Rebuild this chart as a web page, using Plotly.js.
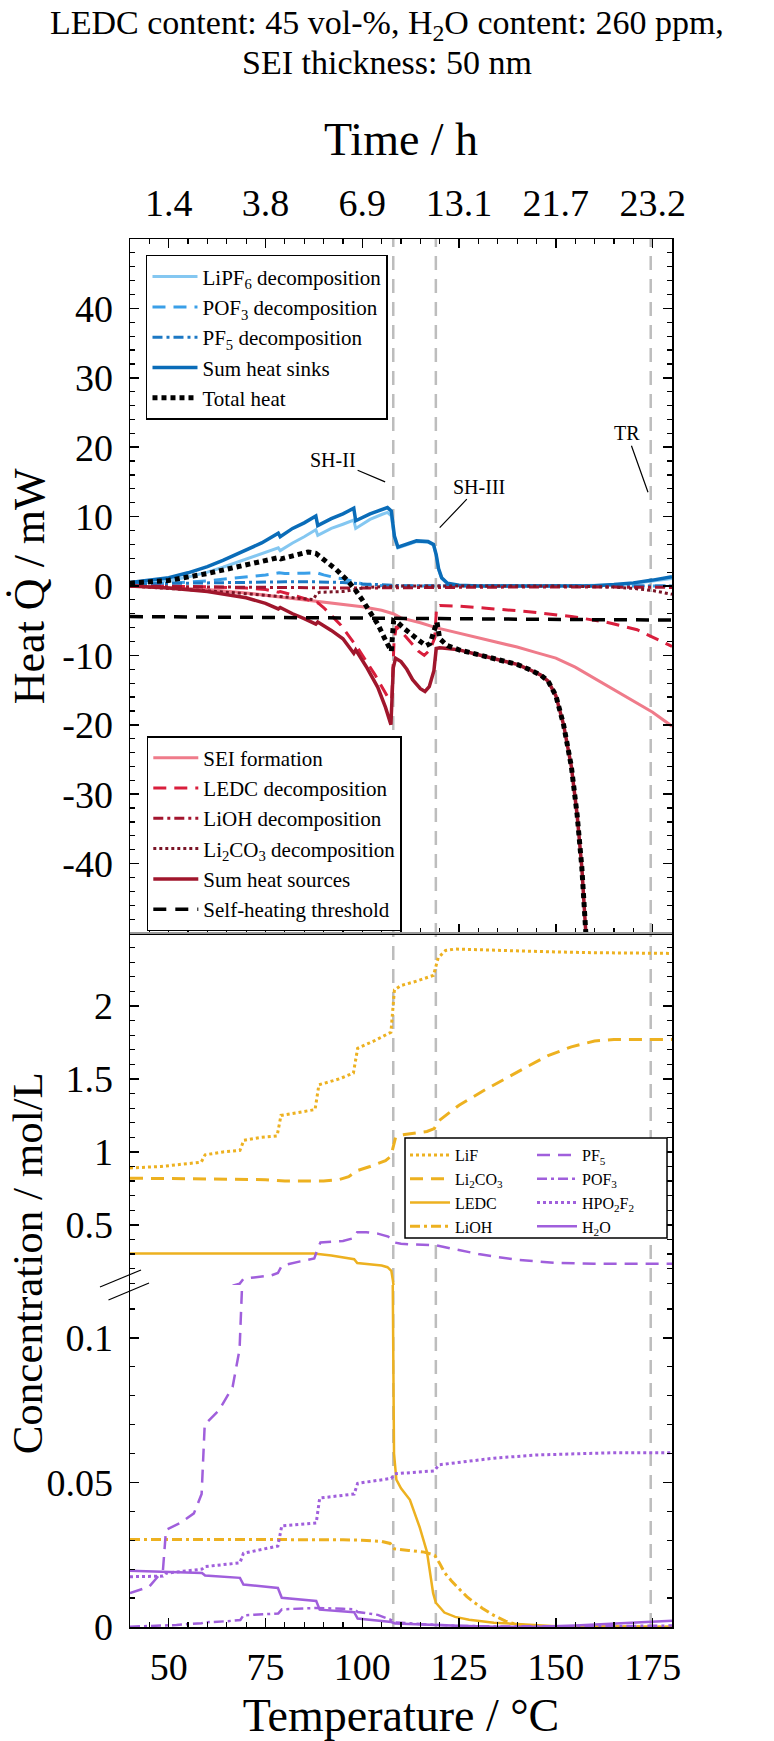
<!DOCTYPE html>
<html><head><meta charset="utf-8">
<script src="https://cdn.plot.ly/plotly-3.0.1.min.js"></script>
<style>html,body{margin:0;padding:0;background:#fff}</style>
</head><body><div id="chart" style="width:774px;height:1741px"></div>
<script>
// ---------- axis tick data ----------
const tempTicks = [50, 75, 100, 125, 150, 175];
const timeLabels = ['1.4', '3.8', '6.9', '13.1', '21.7', '23.2'];
const heatTicks = [-40, -30, -20, -10, 0, 10, 20, 30, 40];
const heatTickText = ['-40', '-30', '-20', '-10', '0', '10', '20', '30', '40'];
const concHiTicks = [0.5, 1, 1.5, 2];
const concHiText = ['0.5', '1', '1.5', '2'];
const concLoTicks = [0, 0.05, 0.1];
const concLoText = ['0', '0.05', '0.1'];
const eventTemps = [108, 119, 174.5];

// ---------- heat sinks ----------
const T_sink = [40,45,50,55,60,64,70,74,78.3,78.8,82,85,88.0,88.5,92,95,97.8,98.3,102,105,106.5,107.5,108.3,109.2,111,114,117,118.4,119.1,119.7,120.5,122,125,130,140,150,160,165,170,175,180];
const sumSinks = [0.5,0.8,1.2,1.9,2.8,3.7,5.2,6.2,7.6,7.1,8.3,9.1,10.1,8.7,9.7,10.4,11.2,9.4,10.4,11.0,11.3,10.8,7.2,5.6,5.9,6.5,6.4,6.0,4.5,2.5,1.2,0.4,0.1,0.0,0.0,0.0,0.05,0.2,0.45,0.85,1.35];
const lipf6Heat = [0.3,0.5,0.8,1.3,2.0,2.7,3.9,4.6,5.5,5.1,6.2,7.1,8.1,7.3,8.3,8.9,9.5,8.3,9.6,10.3,10.6,10.1,6.9,5.5,5.8,6.4,6.3,5.9,4.4,2.4,1.1,0.3,0.05,0.0,0.0,0.0,0.05,0.15,0.35,0.7,1.1];
const T_pof3h = [40,50,60,70,75,78.5,80,85,88.3,90,93,95.5,98,100,103,108,180];
const pof3Heat = [0.2,0.4,0.75,1.3,1.6,1.9,1.8,1.85,1.9,1.6,1.2,1.0,0.6,0.3,0.1,0,0];
const T_pf5h = [40,50,60,70,80,88,95,100,105,110,180];
const pf5Heat = [0.3,0.4,0.5,0.6,0.6,0.6,0.5,0.3,0.15,0.05,0];

// ---------- total heat ----------
const T_total = [40,50,60,65,70,75,78.4,79,83,86,88,90,93,96,98,100,102,104,106,107.5,108.1,109,111,113,115,116.5,117.5,118.5,119.3,120,122,125,130,135,140,143,146,148,150,152,154,155.5,156.7,157.8];
const totalHeat = [0.4,0.8,1.8,2.4,3.0,3.7,4.1,3.9,4.4,4.9,4.7,3.8,2.5,0.9,-0.4,-2.0,-3.6,-5.5,-7.8,-9.4,-5.0,-5.2,-6.2,-7.2,-8.0,-8.6,-8.3,-6.5,-5.2,-7.6,-8.6,-9.2,-9.9,-10.6,-11.3,-12.0,-12.8,-13.7,-15.8,-20.0,-26.0,-33.0,-40.5,-50.5];

// ---------- heat sources ----------
const T_src = [40,50,60,65,70,75,78.3,78.8,82,85,88.0,88.5,92,95,97.8,98.3,101,104,106,107.4,108.0,108.6,110,111.5,113,115,116.2,117.3,118.5,119.1,120,122,125,130,135,140,143,146,148,150,152,154,155.5,156.7,157.8];
const sumSources = [0,-0.3,-0.8,-1.2,-1.7,-2.5,-3.3,-3.1,-4.0,-4.7,-5.5,-5.2,-6.4,-7.6,-9.7,-9.2,-11.6,-14.6,-17.5,-20.0,-11.8,-10.4,-10.9,-12.0,-13.5,-14.8,-15.2,-14.5,-12.2,-9.0,-8.9,-9.0,-9.2,-9.9,-10.6,-11.3,-12.0,-12.8,-13.7,-15.8,-20.0,-26.0,-33.0,-40.5,-50.5];
const T_sei = [40,50,60,70,80,90,100,105,108,110,115,119,125,130,135,140,145,150,155,160,165,170,175,180];
const seiHeat = [0,-0.2,-0.5,-1.0,-1.7,-2.3,-3.0,-3.5,-4.0,-4.6,-5.3,-6.0,-6.8,-7.4,-8.1,-8.8,-9.6,-10.4,-11.7,-13.3,-14.9,-16.5,-18.2,-20.2];
const T_ledch = [40,60,70,75,78.3,78.8,82,85.6,88,88.5,90,94.4,98.9,103.3,106.7,107.6,108.2,108.8,110,112,114.5,116,117.5,118.7,119.2,120,125,132,143,154,163,171,180];
const ledcHeat = [0,-0.1,-0.3,-0.5,-0.9,-0.8,-1.3,-1.9,-2.5,-2.4,-3.1,-5.6,-9.0,-12.8,-16.1,-16.4,-8.0,-5.8,-6.5,-7.8,-9.4,-10.0,-9.2,-7.5,-3.0,-2.8,-2.9,-3.2,-3.7,-4.4,-5.2,-6.3,-8.7];
const T_liohh = [40,60,80,100,108,120,140,160,180];
const liohHeat = [-0.05,-0.15,-0.25,-0.3,-0.25,-0.2,-0.15,-0.15,-0.2];
const T_li2co3h = [40,50,60,70,78,85,87.4,88.2,89,95,97,99,101,105,110,150,160,165,170,175,180];
const li2co3Heat = [0,-0.3,-0.7,-1.1,-1.5,-1.8,-1.95,-1.1,-0.9,-0.8,-0.6,-0.35,-0.2,-0.1,0,0,-0.05,-0.15,-0.35,-0.65,-1.2];
const T_thr = [40,80,120,160,180];
const threshold = [-4.4,-4.5,-4.7,-4.85,-4.9];

// ---------- concentrations ----------
const T_LiF = [40,48,55,58.4,59.4,64,68.4,69.4,74,78.0,79.0,84,87.8,88.8,94,97.7,98.8,103,107.4,108.3,110,114,118.4,119.6,121.5,124,130,140,150,160,170,180];
const cLiF = [0.89,0.90,0.92,0.93,0.98,1.00,1.01,1.08,1.10,1.11,1.25,1.27,1.29,1.46,1.50,1.54,1.71,1.76,1.82,2.11,2.14,2.17,2.21,2.33,2.38,2.39,2.385,2.375,2.37,2.365,2.36,2.36];
const T_Li2CO3 = [40,60,75,80,85,90,94,96.5,98.5,102,106,107.4,108.6,110,116.7,118.6,119.6,125,132,138,143,148,154,160,165,180];
const cLi2CO3 = [0.82,0.815,0.81,0.80,0.80,0.80,0.81,0.83,0.87,0.90,0.94,0.97,1.10,1.115,1.14,1.16,1.21,1.32,1.43,1.52,1.59,1.66,1.72,1.76,1.77,1.77];
const T_LEDC = [40,60,80,87.5,92,96,97.9,98.7,102,105,106.5,107.5,107.9,108.2,108.8,110,112.3,114.8,116.7,118.3,119,121.2,124,127.6,134,140,150,180];
const cLEDC = [0.303,0.305,0.305,0.303,0.29,0.275,0.265,0.238,0.232,0.222,0.21,0.185,0.12,0.06,0.051,0.048,0.044,0.0346,0.026,0.0117,0.0084,0.005,0.0035,0.0025,0.0015,0.001,0.0003,0];
const T_LiOH = [40,60,80,95,100,105,107.2,108.3,112,116,118.7,120,121.2,123,125,127,128.8,131,134,137,140,145,180];
const cLiOH = [0.0303,0.0303,0.0303,0.0302,0.030,0.0296,0.0289,0.027,0.0265,0.0259,0.0248,0.022,0.0189,0.016,0.0132,0.0105,0.0086,0.0065,0.004,0.002,0.0008,0.0002,0];
const T_PF5 = [40,45,48.5,49.3,53,56.5,58.5,59.3,63,66.5,68.3,68.9,69.3,72,76.5,78.2,79.2,84,87.6,88.4,89.2,95,97.9,98.7,101,104,106.7,108.2,110,119,125,130,140,150,160,180];
const cPF5 = [0.0117,0.014,0.0195,0.0336,0.036,0.0393,0.046,0.070,0.075,0.083,0.096,0.113,0.13,0.14,0.154,0.17,0.22,0.25,0.27,0.33,0.38,0.39,0.41,0.45,0.45,0.44,0.42,0.38,0.37,0.36,0.33,0.30,0.26,0.24,0.234,0.234];
const T_POF3 = [40,52,58.5,59.3,65,68.5,69.3,75,78.3,79.2,88,95,98,98.8,104,107.5,108.5,115,119,125,134,150,165,180];
const cPOF3 = [0.0001,0.0007,0.0013,0.0016,0.002,0.0024,0.004,0.0045,0.0047,0.0061,0.0066,0.0063,0.0061,0.0052,0.0042,0.0024,0.0016,0.001,0.0007,0.0004,0.0002,0.0002,0.0003,0.0005];
const T_HPO2F2 = [40,45,48.5,49.3,55,58.6,59.4,68.4,69.3,78.2,79.2,88.1,89.0,97.9,98.8,107.5,108.4,118.6,119.8,125,134,145,155,165,180];
const cHPO2F2 = [0.0174,0.0174,0.0176,0.0186,0.0195,0.0200,0.0209,0.0222,0.0255,0.028,0.035,0.036,0.0446,0.046,0.0497,0.0514,0.053,0.054,0.0561,0.057,0.0584,0.0595,0.060,0.0603,0.0603];
const T_H2O = [40,55,58.6,59.4,68.4,69.3,78.2,79.2,88.1,89.0,97.9,98.8,107.5,108.5,115,125,134,145,155,165,180];
const cH2O = [0.0195,0.0189,0.0187,0.0178,0.0170,0.0147,0.0135,0.0101,0.0090,0.0060,0.0051,0.0029,0.0017,0.0012,0.0008,0.0004,0.0001,0.0001,0.0005,0.0012,0.0022];

// ---------- styling ----------
const FONT = 'Liberation Serif, Times New Roman, serif';
const ORANGE = '#EDB120', PURPLE = '#A05FDC';
const DASH = '13px,8px', DASHDOT = '10px,4px,3px,4px', DOT = '3px,3px';

function heat(name, x, y, color, width, dash, legend) {
  return {type: 'scatter', mode: 'lines', name: name, x: x, y: y, xaxis: 'x2', yaxis: 'y',
    line: {color: color, width: width, dash: dash}, legend: legend, hoverinfo: 'skip'};
}
const traces = [
  heat('LiPF<sub>6</sub> decomposition', T_sink, lipf6Heat, '#84C7F1', 3, 'solid', 'legend'),
  heat('POF<sub>3</sub> decomposition', T_pof3h, pof3Heat, '#3A9FE8', 3, DASH, 'legend'),
  heat('PF<sub>5</sub> decomposition', T_pf5h, pf5Heat, '#1C78C4', 3, DASHDOT, 'legend'),
  heat('Sum heat sinks', T_sink, sumSinks, '#0A6CB8', 3.5, 'solid', 'legend'),
  heat('SEI formation', T_sei, seiHeat, '#EF7B8A', 3, 'solid', 'legend2'),
  heat('LEDC decomposition', T_ledch, ledcHeat, '#D91E3C', 3, DASH, 'legend2'),
  heat('LiOH decomposition', T_liohh, liohHeat, '#A3152F', 3, DASHDOT, 'legend2'),
  heat('Li<sub>2</sub>CO<sub>3</sub> decomposition', T_li2co3h, li2co3Heat, '#7A1426', 3, DOT, 'legend2'),
  heat('Sum heat sources', T_src, sumSources, '#A0162C', 3.5, 'solid', 'legend2'),
  heat('Self-heating threshold', T_thr, threshold, '#000000', 3.5, '13px,9px', 'legend2'),
  heat('Total heat', T_total, totalHeat, '#000000', 5, '5px,4px', 'legend')
];

function conc(name, x, y, color, width, dash, legend) {
  const base = {type: 'scatter', mode: 'lines', name: name, x: x, y: y, xaxis: 'x',
    line: {color: color, width: width, dash: dash}, hoverinfo: 'skip'};
  traces.push(Object.assign({}, base, {yaxis: 'y2', legend: legend, showlegend: true}));
  traces.push(Object.assign({}, base, {yaxis: 'y3', legend: legend, showlegend: false}));
}
conc('LiF', T_LiF, cLiF, ORANGE, 3, DOT, 'legend3');
conc('Li<sub>2</sub>CO<sub>3</sub>', T_Li2CO3, cLi2CO3, ORANGE, 3, DASH, 'legend3');
conc('LEDC', T_LEDC, cLEDC, ORANGE, 2.5, 'solid', 'legend3');
conc('LiOH', T_LiOH, cLiOH, ORANGE, 3, DASHDOT, 'legend3');
conc('PF<sub>5</sub>', T_PF5, cPF5, PURPLE, 2.5, DASH, 'legend4');
conc('POF<sub>3</sub>', T_POF3, cPOF3, PURPLE, 2.5, DASHDOT, 'legend4');
conc('HPO<sub>2</sub>F<sub>2</sub>', T_HPO2F2, cHPO2F2, PURPLE, 3, DOT, 'legend4');
conc('H<sub>2</sub>O', T_H2O, cH2O, PURPLE, 2.5, 'solid', 'legend4');

const tickFont = {family: FONT, size: 38, color: '#000'};
const axBase = {showgrid: false, zeroline: false, showline: true, linecolor: '#000', linewidth: 1.5,
  ticks: 'inside', ticklen: 9, tickwidth: 1.5, tickcolor: '#000', tickfont: tickFont};

const shapes = eventTemps.map(t => ({type: 'line', xref: 'x', yref: 'paper', x0: t, x1: t, y0: 0, y1: 1,
  line: {color: '#BDBDBD', width: 2.5, dash: '14px,9px'}, layer: 'below'}));
shapes.push({type: 'rect', xref: 'paper', yref: 'paper', x0: 0.5074, x1: 0.9908, y0: 0.2803, y1: 0.3523,
  line: {color: '#000', width: 1.5}, fillcolor: '#fff', layer: 'above'});
shapes.push({type: 'line', xref: 'paper', yref: 'paper', x0: -0.0554, x1: 0.0203, y0: 0.245, y1: 0.2572, line: {color: '#000', width: 1.2}});
shapes.push({type: 'line', xref: 'paper', yref: 'paper', x0: -0.0397, x1: 0.0351, y0: 0.2356, y1: 0.2478, line: {color: '#000', width: 1.2}});
// grey boundary between the two panels
shapes.push({type: 'line', xref: 'paper', yref: 'paper', x0: 0, x1: 1, y0: 0.5, y1: 0.5, line: {color: '#9A9A9A', width: 2}, layer: 'above'});

const legBase = {xanchor: 'left', yanchor: 'top', bgcolor: '#fff', bordercolor: '#000', borderwidth: 1.5,
  font: {family: FONT, size: 21, color: '#000'}, itemwidth: 45, tracegroupgap: 0};

const annFont = {family: FONT, size: 20, color: '#000'};
const layout = {
  width: 774, height: 1741,
  margin: {l: 130, r: 102, t: 239, b: 114, pad: 0},
  paper_bgcolor: '#fff', plot_bgcolor: 'rgba(0,0,0,0)',
  font: {family: FONT, color: '#000'},
  xaxis: Object.assign({}, axBase, {domain: [0, 1], anchor: 'y3', range: [40, 180],
    tickmode: 'array', tickvals: tempTicks, ticktext: tempTicks.map(String), ticklabelstandoff: 6,
    minor: {dtick: 5, tick0: 0, ticks: 'inside', ticklen: 5, tickcolor: '#000', tickwidth: 1.2},
    title: {text: 'Temperature / °C', font: {family: FONT, size: 46}, standoff: 12}}),
  xaxis2: Object.assign({}, axBase, {domain: [0, 1], anchor: 'y', side: 'top', range: [40, 180], mirror: 'ticks',
    tickmode: 'array', tickvals: tempTicks, ticktext: timeLabels, ticklabelstandoff: 6,
    minor: {dtick: 5, tick0: 0, ticks: 'inside', ticklen: 5, tickcolor: '#000', tickwidth: 1.2},
    title: {text: 'Time / h', font: {family: FONT, size: 46}, standoff: 12}}),
  yaxis: Object.assign({}, axBase, {domain: [0.5, 1], anchor: 'x2', range: [-50, 50], mirror: 'ticks',
    tickmode: 'array', tickvals: heatTicks, ticktext: heatTickText, ticklabelstandoff: 8,
    minor: {dtick: 2, tick0: 0, ticks: 'inside', ticklen: 5, tickcolor: '#000', tickwidth: 1.2}}),
  yaxis2: Object.assign({}, axBase, {domain: [0.2464, 0.5], anchor: 'x', range: [0.088, 2.5], mirror: 'ticks',
    tickmode: 'array', tickvals: concHiTicks, ticktext: concHiText, ticklabelstandoff: 8,
    minor: {dtick: 0.1, tick0: 0, ticks: 'inside', ticklen: 5, tickcolor: '#000', tickwidth: 1.2}}),
  yaxis3: Object.assign({}, axBase, {domain: [0, 0.2464], anchor: 'x', range: [0, 0.1183], mirror: 'ticks',
    tickmode: 'array', tickvals: concLoTicks, ticktext: concLoText, ticklabelstandoff: 8,
    minor: {dtick: 0.01, tick0: 0, ticks: 'inside', ticklen: 5, tickcolor: '#000', tickwidth: 1.2}}),
  legend: Object.assign({}, legBase, {x: 0.0295, y: 0.9885}),
  legend2: Object.assign({}, legBase, {x: 0.031, y: 0.6419}),
  legend3: Object.assign({}, legBase, {x: 0.5074, y: 0.3523, bgcolor: 'rgba(0,0,0,0)', borderwidth: 0,
    font: {family: FONT, size: 16, color: '#000'}, itemwidth: 40}),
  legend4: Object.assign({}, legBase, {x: 0.7417, y: 0.3523, bgcolor: 'rgba(0,0,0,0)', borderwidth: 0,
    font: {family: FONT, size: 16, color: '#000'}, itemwidth: 40}),
  shapes: shapes,
  annotations: [
    {text: 'LEDC content: 45 vol-%, H<sub>2</sub>O content: 260 ppm,', xref: 'paper', yref: 'paper', x: 0.474, y: 1.1542,
      xanchor: 'center', yanchor: 'middle', showarrow: false, font: {family: FONT, size: 34}},
    {text: 'SEI thickness: 50 nm', xref: 'paper', yref: 'paper', x: 0.474, y: 1.1275,
      xanchor: 'center', yanchor: 'middle', showarrow: false, font: {family: FONT, size: 34}},
    {text: 'Heat Q\u0307 / mW', xref: 'paper', yref: 'paper', x: -0.186, y: 0.75, textangle: -90,
      xanchor: 'center', yanchor: 'middle', showarrow: false, font: {family: FONT, size: 44}},
    {text: 'Concentration / mol/L', xref: 'paper', yref: 'paper', x: -0.19, y: 0.262, textangle: -90,
      xanchor: 'center', yanchor: 'middle', showarrow: false, font: {family: FONT, size: 43}},
    {text: 'SH-II', xref: 'x2', yref: 'y', x: 105.9, y: 15.0, ax: -52, ay: -22, showarrow: true,
      arrowhead: 0, arrowwidth: 1.2, arrowcolor: '#000', standoff: 0, font: annFont},
    {text: 'SH-III', xref: 'x2', yref: 'y', x: 120, y: 8.4, ax: 39, ay: -41, showarrow: true,
      arrowhead: 0, arrowwidth: 1.2, arrowcolor: '#000', standoff: 0, font: annFont},
    {text: 'TR', xref: 'x2', yref: 'y', x: 173.8, y: 13.5, ax: -21, ay: -59, showarrow: true,
      arrowhead: 0, arrowwidth: 1.2, arrowcolor: '#000', standoff: 0, font: annFont}
  ]
};

Plotly.newPlot('chart', traces, layout, {displayModeBar: false, staticPlot: true});
</script></body></html>
